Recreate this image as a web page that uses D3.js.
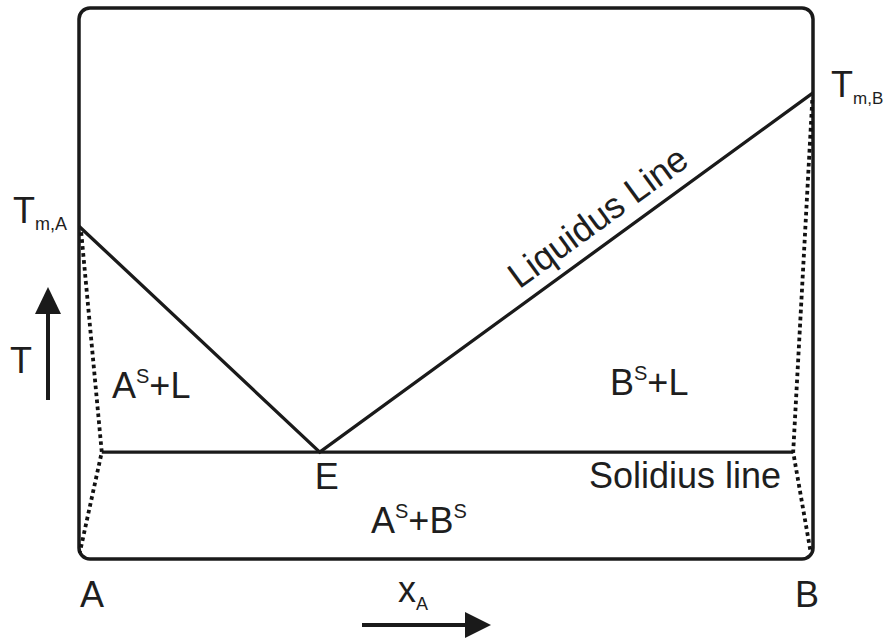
<!DOCTYPE html>
<html>
<head>
<meta charset="utf-8">
<script src="https://cdn.jsdelivr.net/npm/d3@7"></script>
<style>
  html, body { margin: 0; padding: 0; background: #fff; }
  svg { display: block; }
  text { font-family: "Liberation Sans", Arial, sans-serif; fill: #1e1e1e; }
</style>
</head>
<body>
<svg id="chart" width="886" height="640"></svg>
<script>
// Binary eutectic phase diagram (composition on x, temperature on y, arbitrary units)
const meltA = { x: 0.0, t: 60.4 };       // T_m,A
const meltB = { x: 1.0, t: 84.6 };       // T_m,B
const eutectic = { x: 0.328, t: 19.4 };  // E
const solidusX = [0.031, 0.973];         // ends of the solidus line
const leftDotted = [[0.003, 59.3], [0.031, 19.4], [0.001, 1.1]];
const rightDotted = [[0.999, 83.3], [0.973, 19.4], [0.997, 1.1]];

const W = 886, H = 640;
const box = { left: 79, right: 813, top: 8, bottom: 559 };
const x = d3.scaleLinear().domain([0, 1]).range([box.left, box.right]);
const y = d3.scaleLinear().domain([0, 100]).range([box.bottom, box.top]);

const svg = d3.select("#chart");
const ink = "#1a1a1a";
const FS = 36;

// frame
svg.append("rect")
  .attr("x", box.left).attr("y", box.top)
  .attr("width", box.right - box.left).attr("height", box.bottom - box.top)
  .attr("rx", 11).attr("ry", 11)
  .attr("fill", "none").attr("stroke", ink).attr("stroke-width", 3.5);

const line = d3.line().x(d => x(d[0])).y(d => y(d[1]));

// liquidus branches
svg.append("path")
  .attr("d", line([[meltA.x, meltA.t], [eutectic.x, eutectic.t], [meltB.x, meltB.t]]))
  .attr("fill", "none").attr("stroke", ink).attr("stroke-width", 3.3)
  .attr("stroke-linejoin", "miter");

// solidus
svg.append("path")
  .attr("d", line([[solidusX[0], eutectic.t], [solidusX[1], eutectic.t]]))
  .attr("fill", "none").attr("stroke", ink).attr("stroke-width", 3.3);

// dotted boundaries
[leftDotted, rightDotted].forEach(pts => {
  svg.append("path")
    .attr("d", line(pts))
    .attr("fill", "none").attr("stroke", "#111").attr("stroke-width", 3.8)
    .attr("stroke-dasharray", "3.6,3.4");
});

// text helper with optional sub/superscript parts
function label(px, py, parts, size, anchor) {
  const t = svg.append("text")
    .attr("x", px).attr("y", py)
    .attr("font-size", size)
    .attr("text-anchor", anchor || "start");
  parts.forEach(p => {
    const s = t.append("tspan").text(p.text);
    if (p.size) s.attr("font-size", p.size);
    if (p.dy) s.attr("dy", p.dy);
  });
  return t;
}

// melting point labels
label(13, 223, [{ text: "T" }, { text: "m,A", size: 18, dy: 7 }], FS);
label(831, 97, [{ text: "T" }, { text: "m,B", size: 17, dy: 7 }], FS);

// phase field labels
label(112, 398, [{ text: "A" }, { text: "S", size: 20, dy: -15 }, { text: "+L", dy: 15 }], FS);
label(610, 395, [{ text: "B" }, { text: "S", size: 20, dy: -15 }, { text: "+L", dy: 15 }], FS);
label(371, 533, [{ text: "A" }, { text: "S", size: 20, dy: -15 }, { text: "+B", dy: 15 }, { text: "S", size: 20, dy: -15 }], FS);
label(x(eutectic.x) + 7, 489, [{ text: "E" }], FS, "middle");
label(781, 488, [{ text: "Solidius line" }], FS, "end");

// liquidus label, laid along the right branch
{
  const x0 = x(eutectic.x), y0 = y(eutectic.t), x1 = x(meltB.x), y1 = y(meltB.t);
  const ang = Math.atan2(y1 - y0, x1 - x0);
  const f = 0.595, off = 14;
  const mx = x0 + (x1 - x0) * f + Math.sin(ang) * off;
  const my = y0 + (y1 - y0) * f - Math.cos(ang) * off;
  svg.append("text")
    .attr("transform", `translate(${mx},${my}) rotate(${ang * 180 / Math.PI})`)
    .attr("font-size", FS).attr("text-anchor", "middle")
    .text("Liquidus Line");
}

// component labels
label(x(0) + 13, 607, [{ text: "A" }], FS, "middle");
label(x(1) - 6, 607, [{ text: "B" }], FS, "middle");

// temperature axis arrow
label(10, 373, [{ text: "T" }], FS);
svg.append("line").attr("x1", 48).attr("x2", 48).attr("y1", 400).attr("y2", 310)
  .attr("stroke", ink).attr("stroke-width", 4);
svg.append("path").attr("d", "M48,287 L35,314 L61,314 Z").attr("fill", ink);

// composition axis arrow
label(398, 602, [{ text: "x" }, { text: "A", size: 18, dy: 8 }], FS);
svg.append("line").attr("x1", 362).attr("x2", 470).attr("y1", 625).attr("y2", 625)
  .attr("stroke", ink).attr("stroke-width", 4);
svg.append("path").attr("d", "M491,625 L465,612 L465,638 Z").attr("fill", ink);
</script>
</body>
</html>
